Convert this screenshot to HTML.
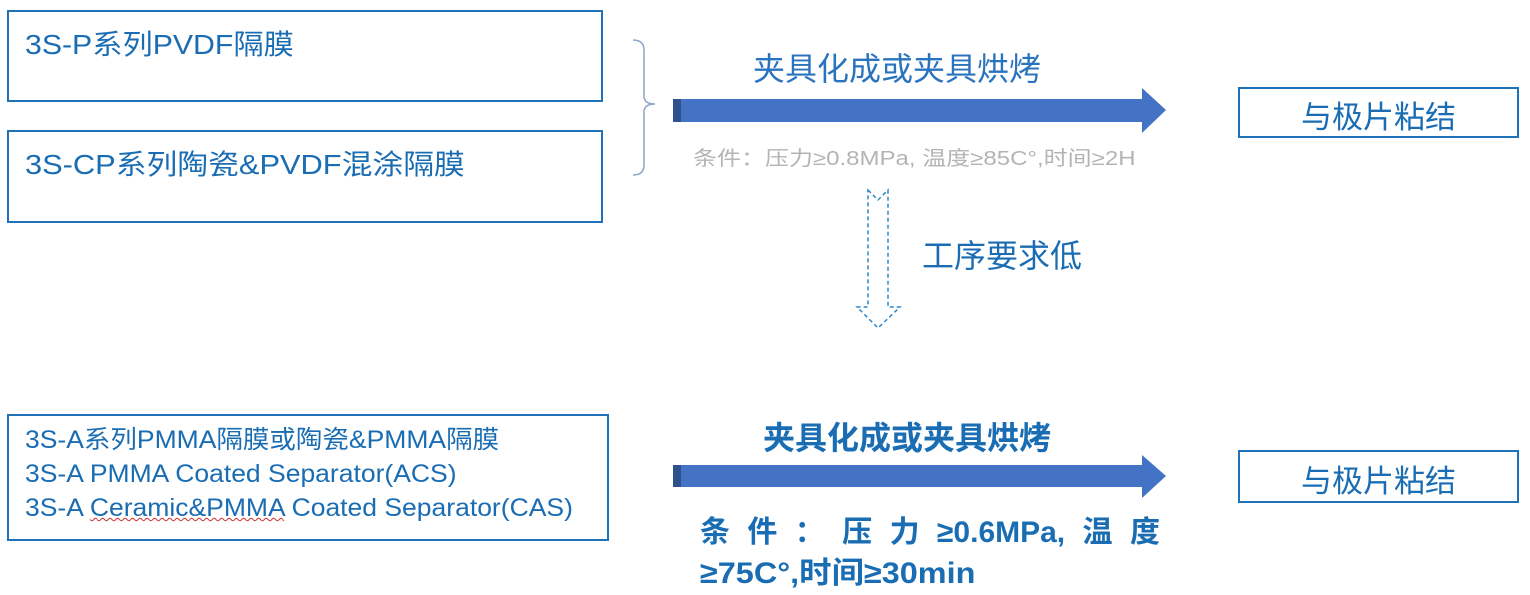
<!DOCTYPE html>
<html><head><meta charset="utf-8"><style>
body{margin:0;width:1530px;height:595px;background:#fff;position:relative;overflow:hidden;font-family:"Liberation Sans","Noto Sans CJK SC",sans-serif;}
.a{position:absolute;white-space:nowrap;transform-origin:0 50%;}
.box{position:absolute;border:2.5px solid #1d72b8;box-sizing:border-box;}
.t{color:#1a6db3;}
</style></head><body>
<div class="box" style="left:7px;top:10px;width:596px;height:92px"></div>
<div class="a t" style="left:25px;top:23px;font-size:28px;transform:scaleX(1.08)">3S-P系列PVDF隔膜</div>
<div class="box" style="left:7px;top:130px;width:596px;height:93px"></div>
<div class="a t" style="left:25px;top:143px;font-size:28px;transform:scaleX(1.1)">3S-CP系列陶瓷&amp;PVDF混涂隔膜</div>

<svg class="a" style="left:0;top:0" width="1530" height="595">
 <path d="M633 40 Q644 40 644 50 L644 96 Q644 104 655 104 Q644 104 644 112 L644 165 Q644 175 633 175" fill="none" stroke="#8ea4c8" stroke-width="1.5"/>
 <polygon points="673,99 1142,99 1142,88 1166,110 1142,133 1142,122 673,122" fill="#4472c4"/>
 <rect x="673" y="99" width="8" height="23" fill="#2f528f"/>
 <polygon points="673,465 1142,465 1142,455 1166,476 1142,498 1142,487 673,487" fill="#4472c4"/>
 <rect x="673" y="465" width="8" height="22" fill="#2f528f"/>
 <polygon points="868,190 878,200 888,190 888,307 900,307 878,328 857,307 868,307" fill="none" stroke="#2e86c8" stroke-width="1.5" stroke-dasharray="4,3"/>
</svg>

<div class="a t" style="left:753px;top:44px;font-size:32px;color:#2a74be">夹具化成或夹具烘烤</div>
<div class="a" style="left:693px;top:142px;font-size:20px;color:#b4b4b4;transform:scaleX(1.2)">条件：压力≥0.8MPa, 温度≥85C°,时间≥2H</div>
<div class="a t" style="left:922px;top:231px;font-size:32px">工序要求低</div>

<div class="box" style="left:1238px;top:87px;width:281px;height:51px"></div>
<div class="a t" style="left:1238px;top:92px;width:281px;text-align:center;font-size:31px">与极片粘结</div>
<div class="box" style="left:1238px;top:450px;width:281px;height:53px"></div>
<div class="a t" style="left:1238px;top:456px;width:281px;text-align:center;font-size:31px">与极片粘结</div>

<div class="box" style="left:7px;top:414px;width:602px;height:127px"></div>
<div class="a t" style="left:25px;top:423px;font-size:25px;line-height:34px;transform:scaleX(1.06);transform-origin:0 0">3S-A系列PMMA隔膜或陶瓷&amp;PMMA隔膜<br>3S-A PMMA Coated Separator(ACS)<br>3S-A <span style="text-decoration:underline wavy #d03030;text-decoration-thickness:1px">Ceramic&amp;PMMA</span> Coated Separator(CAS)</div>

<div class="a t" style="left:763px;top:413px;font-size:32px;font-weight:bold;color:#1a6db3">夹具化成或夹具烘烤</div>
<div class="a t" style="left:700px;top:507px;width:460px;font-size:30px;font-weight:bold;display:flex;justify-content:space-between;align-items:baseline"><span>条</span><span>件</span><span>：</span><span>压</span><span>力</span><span>≥0.6MPa,</span><span>温</span><span>度</span></div>
<div class="a t" style="left:700px;top:548px;font-size:30px;font-weight:bold;transform:scaleX(1.08)">≥75C°,时间≥30min</div>
</body></html>
